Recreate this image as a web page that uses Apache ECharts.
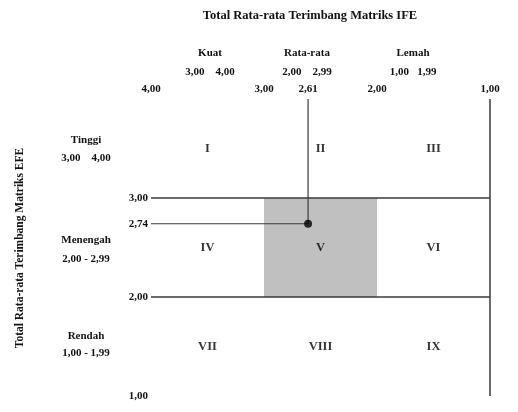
<!DOCTYPE html>
<html><head><meta charset="utf-8">
<script src="https://cdn.jsdelivr.net/npm/echarts@6/dist/echarts.min.js"></script>
<style>html,body{margin:0;padding:0;background:#fff}#c{width:518px;height:412px}</style>
</head><body><div id="c"></div>
<script>
// ---- data ----
var ifeScore = 2.61;          // x (IFE)
var efeScore = 2.74;          // y (EFE)
var xTicks = [4.00, 3.00, 2.61, 2.00, 1.00];
var yTicks = [3.00, 2.74, 2.00, 1.00];
var bounds = [3.00, 2.00];    // zone boundaries
var axisMin = 1, axisMax = 4;
var cellCentersX = [3.5, 2.5, 1.5];
var cellCentersY = [3.5, 2.5, 1.5];
var cellNames = [['I','II','III'],['IV','V','VI'],['VII','VIII','IX']];
var highlightCell = {x: [3, 2], y: [2, 3]};
var colHeaders = ['Kuat', 'Rata-rata', 'Lemah'];
var colRanges = ['3,00    4,00', '2,00    2,99', '1,00   1,99'];
var rowHeaders = ['Tinggi', 'Menengah', 'Rendah'];
var rowRanges = ['3,00    4,00', '2,00 - 2,99', '1,00 - 1,99'];
var title = 'Total Rata-rata Terimbang Matriks IFE';
var yTitle = 'Total Rata-rata Terimbang Matriks EFE';

var FONT = '"Liberation Serif", "Times New Roman", serif';
var TXT = '#111';
var LINE = '#3a3a3a';
function fmt(v){ return v.toFixed(2).replace('.', ','); }

var series = [];
// horizontal boundary lines
bounds.forEach(function(b){
  series.push({type:'line', data:[[axisMax,b],[axisMin,b]], symbol:'none', silent:true,
    lineStyle:{color:LINE, width:1.5}, z:3});
});
// right border line
series.push({type:'line', data:[[axisMin,axisMax],[axisMin,axisMin]], symbol:'none', silent:true,
  lineStyle:{color:LINE, width:1.5}, z:3});
// guide lines to point
series.push({type:'line', data:[[axisMax,efeScore],[ifeScore,efeScore],[ifeScore,axisMax]], symbol:'none', silent:true,
  lineStyle:{color:LINE, width:1.2}, z:4,
  markArea:{silent:true, itemStyle:{color:'#c0c0c0'},
    data:[[{xAxis:highlightCell.x[0], yAxis:highlightCell.y[0]},{xAxis:highlightCell.x[1], yAxis:highlightCell.y[1]}]]}
});
// point
series.push({type:'scatter', data:[[ifeScore, efeScore]], symbol:'circle', symbolSize:8,
  itemStyle:{color:'#000'}, z:6, silent:true});
// cell labels
var cellData = [];
cellCentersY.forEach(function(cy, r){
  cellCentersX.forEach(function(cx, c){
    cellData.push({value:[cx, cy], name:cellNames[r][c]});
  });
});
series.push({type:'scatter', data:cellData, symbolSize:0, silent:true, z:5,
  label:{show:true, position:'inside', formatter:function(p){return p.name;},
    fontFamily:FONT, fontWeight:'bold', fontSize:12.5, color:'#000', textBorderWidth:0}});

var graphics = [];
graphics.push({type:'text', x:310, y:16, style:{text:title, font:'bold 12.5px '+FONT, fill:TXT, align:'center', verticalAlign:'middle'}});
var colX = [210, 307, 413];
colHeaders.forEach(function(h,i){
  graphics.push({type:'text', x:colX[i], y:53, style:{text:h, font:'bold 11px '+FONT, fill:TXT, align:'center', verticalAlign:'middle'}});
  graphics.push({type:'text', x:colX[i], y:72, style:{text:colRanges[i], font:'bold 11px '+FONT, fill:TXT, align:'center', verticalAlign:'middle'}});
});
var rowY = [[140,158],[240,259],[336,353]];
rowHeaders.forEach(function(h,i){
  graphics.push({type:'text', x:86, y:rowY[i][0], style:{text:h, font:'bold 11px '+FONT, fill:TXT, align:'center', verticalAlign:'middle'}});
  graphics.push({type:'text', x:86, y:rowY[i][1], style:{text:rowRanges[i], font:'bold 11px '+FONT, fill:TXT, align:'center', verticalAlign:'middle'}});
});
graphics.push({type:'text', x:20, y:248, rotation:Math.PI/2,
  style:{text:yTitle, font:'bold 11.5px '+FONT, fill:TXT, align:'center', verticalAlign:'middle'}});

var chart = echarts.init(document.getElementById('c'), null, {renderer:'canvas'});
chart.setOption({
  animation:false,
  backgroundColor:'#fff',
  grid:{left:151, right:28, top:99, bottom:16},
  xAxis:{type:'value', min:axisMin, max:axisMax, inverse:true, position:'top',
    splitLine:{show:false}, axisLine:{show:false}, axisTick:{show:false},
    axisLabel:{customValues:xTicks, formatter:fmt, margin:4,
      fontFamily:FONT, fontWeight:'bold', fontSize:11, color:TXT}},
  yAxis:{type:'value', min:axisMin, max:axisMax,
    splitLine:{show:false}, axisLine:{show:false}, axisTick:{show:false},
    axisLabel:{customValues:yTicks, formatter:fmt, margin:3,
      fontFamily:FONT, fontWeight:'bold', fontSize:11, color:TXT}},
  series:series,
  graphic:graphics
});
</script></body></html>
